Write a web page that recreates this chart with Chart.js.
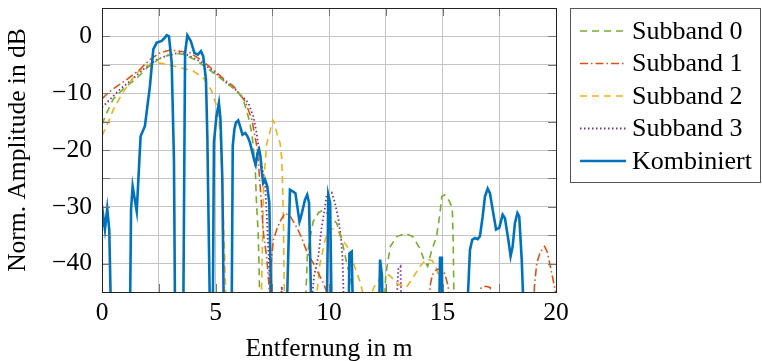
<!DOCTYPE html>
<html>
<head>
<meta charset="utf-8">
<script src="https://cdn.jsdelivr.net/npm/chart.js@4.4.1/dist/chart.umd.min.js"></script>
<style>
  html, body { margin: 0; padding: 0; background: #fff; }
  #wrap { width: 762px; height: 361px; }
</style>
</head>
<body>
<div id="wrap"><canvas id="chart" width="762" height="361"></canvas></div>
<script>
// Werte (x in m, y in dB); -50 = unterhalb der Achse
const seriesLabels = ['Subband 0', 'Subband 1', 'Subband 2', 'Subband 3', 'Kombiniert'];
const xTickLabels = [0, 5, 10, 15, 20];
const yTickLabels = [0, -10, -20, -30, -40];

const subband0 = [
  [0,-15.5],[0.2,-13.5],[0.5,-11],[1.0,-9],[1.5,-7.5],[2.0,-5.5],[2.5,-4],[2.85,-3.4],[3.3,-3],[3.6,-3.2],
  [4.1,-4.1],[4.7,-5.8],[5.3,-7.6],[5.85,-9.3],[6.2,-10.8],[6.45,-14.2],[6.6,-17],[6.75,-22.9],[6.8,-28.8],
  [6.88,-34.6],[6.92,-40.5],[6.96,-50],
  [8.94,-50],[9.05,-38.2],[9.3,-32.6],[9.55,-31],[9.75,-30.6],[9.9,-31.1],[10.34,-32.9],[10.56,-35.8],
  [10.78,-39.9],[10.93,-42.3],[11.05,-45],[11.15,-50],
  [12.4,-50],[12.5,-42],[12.7,-37],[13.0,-35.2],[13.4,-34.7],[13.7,-35.3],[14.0,-37.3],[14.2,-39.5],
  [14.35,-40.5],[14.5,-38],[14.74,-35.2],[14.89,-31.1],[14.97,-28.2],[15.1,-27.9],[15.3,-29],[15.43,-30.2],
  [15.47,-35.8],[15.5,-45],[15.52,-50],[20,-50]
];

const subband1 = [
  [0,-11],[0.28,-9.9],[0.65,-8.8],[1.09,-7.6],[1.67,-5.8],[2.11,-4.1],[2.55,-2.9],[2.99,-2.4],[3.44,-2.6],
  [3.88,-2.9],[4.46,-4.4],[5.05,-6.4],[5.49,-7.9],[5.8,-8.8],[6.3,-11.4],[6.6,-14.6],[6.85,-20],[6.92,-24],
  [6.98,-27],[7.05,-31],[7.12,-35],[7.25,-38.7],[7.32,-42],[7.38,-45.5],[7.45,-40],[7.55,-35.8],[7.7,-34],
  [7.84,-32.6],[8.06,-31.1],[8.3,-31.7],[8.59,-33.7],[8.8,-35.5],[9.05,-38.2],[9.31,-39.9],[9.53,-41.7],
  [9.75,-43.4],[9.9,-45],[10.0,-50],
  [14.4,-50],[14.45,-44],[14.55,-42],[14.75,-41],[14.95,-41],[15.1,-41.8],[15.25,-44],[15.35,-50],
  [16.6,-50],[16.7,-44.3],[16.9,-44],[17.1,-44.2],[17.2,-50],
  [19.0,-50],[19.05,-44],[19.15,-40],[19.3,-38],[19.5,-37],[19.62,-38],[19.75,-40.5],[19.9,-43.4],[20,-45.5]
];

const subband2 = [
  [0,-17.5],[0.2,-15.8],[0.5,-12.9],[0.87,-10.2],[1.16,-8.5],[1.53,-6.4],[1.97,-5.2],[2.41,-4.6],[2.85,-4.9],
  [3.44,-5.5],[4.02,-6.1],[4.46,-7.3],[4.83,-9.6],[5.05,-12.3],[5.15,-14.5],[5.22,-18],[5.3,-26],[5.4,-38],
  [5.48,-50],
  [7.0,-50],[7.05,-40],[7.12,-26],[7.25,-19],[7.4,-16.8],[7.52,-14.7],[7.6,-15.3],[7.7,-17],[7.84,-18.7],
  [7.92,-21.5],[7.99,-31.7],[8.03,-45],[8.05,-50],
  [9.35,-50],[9.6,-40],[9.85,-35.5],[10.1,-33.8],[10.4,-34.3],[10.6,-35.8],[10.9,-37.6],[11.1,-40.2],
  [11.35,-43],[11.55,-46],[11.8,-46],[12.0,-44],[12.3,-42.3],[12.65,-42],[13.0,-43.5],[13.4,-44.2],
  [13.7,-42.5],[14.0,-40.5],[14.3,-39.2],[14.55,-39.5],[14.75,-41],[14.9,-43.5],[15.05,-50],[20,-50]
];

const subband3 = [
  [0,-12.5],[0.35,-11.1],[0.8,-9.3],[1.23,-7.9],[1.82,-5.8],[2.41,-4.1],[2.85,-3.4],[3.36,-2.9],[3.73,-3.2],
  [4.32,-4.4],[4.9,-6.1],[5.49,-8.2],[5.86,-9.3],[6.45,-11.7],[6.67,-14.1],[6.81,-17],[6.93,-20.5],
  [7.05,-23],[7.18,-25.8],[7.26,-31.7],[7.33,-37.6],[7.4,-44.6],[7.43,-50],
  [7.85,-50],[7.92,-44],[7.98,-50],
  [9.2,-50],[9.28,-45],[9.34,-42.3],[9.53,-38.7],[9.68,-33.5],[9.82,-30.2],[9.9,-27.8],[10.12,-27.5],
  [10.26,-29.3],[10.41,-32],[10.52,-35.2],[10.59,-38.7],[10.63,-43.4],[10.66,-50],
  [12.95,-50],[13.05,-41],[13.15,-40.5],[13.2,-50],[20,-50]
];

const kombiniert = [
  [0,-33.5],[0.05,-31.5],[0.13,-34],[0.23,-30.3],[0.32,-34],[0.4,-50],
  [1.23,-50],[1.28,-30.5],[1.35,-26.4],[1.53,-30.8],[1.70,-17.6],[1.89,-15.8],[2.11,-8.8],[2.26,-2.3],
  [2.41,-1.1],[2.63,-0.8],[2.78,-0.2],[2.85,0.2],[2.95,0],[3.07,-4.6],[3.17,-21.7],[3.22,-50],
  [3.58,-50],[3.63,-20],[3.66,-2.9],[3.76,0.2],[3.91,-0.8],[4.07,-2.9],[4.22,-3.2],[4.36,-2.6],[4.46,-3.5],
  [4.58,-7.6],[4.64,-17.6],[4.76,-50],
  [4.88,-50],[4.93,-18.7],[5.04,-14.1],[5.15,-11.7],[5.22,-14.6],[5.30,-25],[5.37,-50],
  [5.71,-50],[5.76,-19.3],[5.83,-16.4],[5.90,-15.2],[6.0,-14.8],[6.08,-15.8],[6.19,-17.3],[6.31,-17],
  [6.41,-17.6],[6.52,-18.7],[6.63,-20.5],[6.70,-21.7],[6.77,-22.6],[6.85,-20.5],[6.92,-19.9],[6.98,-21.1],
  [7.03,-23.5],[7.10,-25.8],[7.18,-25.2],[7.28,-26.4],[7.37,-29.3],[7.47,-50],
  [8.13,-50],[8.28,-27],[8.40,-27.3],[8.52,-27.6],[8.70,-32.6],[8.77,-31.7],[8.94,-28.8],[9.04,-27.9],
  [9.12,-29.3],[9.23,-50],
  [9.90,-50],[9.97,-27.9],[10.05,-29.3],[10.12,-50],
  [10.86,-50],[10.9,-38.2],[11.0,-37.9],[11.06,-50],
  [12.2,-50],[12.25,-39.3],[12.33,-42],[12.38,-50],
  [14.85,-50],[14.89,-39],[14.97,-39],[15.0,-50],
  [16.07,-50],[16.21,-37.6],[16.31,-35.8],[16.43,-35.5],[16.55,-35.7],[16.65,-35.2],[16.77,-31.7],
  [16.87,-28.2],[16.99,-26.8],[17.09,-27.6],[17.21,-30.5],[17.36,-34],[17.50,-33.7],[17.65,-31.4],
  [17.75,-32],[17.90,-35.8],[18.00,-38.7],[18.09,-37],[18.19,-32.9],[18.30,-31.1],[18.38,-31.7],
  [18.49,-39.3],[18.59,-50],[20,-50]
];

const toPoints = arr => arr.map(p => ({ x: p[0], y: p[1] }));
const fmt = v => (v < 0 ? '\u2212' + Math.abs(v) : String(v));
const serif = '"Liberation Serif", "Times New Roman", serif';

const datasets = [
  { label: seriesLabels[0], data: toPoints(subband0), borderColor: '#77AC30', borderWidth: 1.6, borderDash: [7, 5], order: 1 },
  { label: seriesLabels[1], data: toPoints(subband1), borderColor: '#D95319', borderWidth: 1.6, borderDash: [8, 3, 1.5, 3], order: 1 },
  { label: seriesLabels[2], data: toPoints(subband2), borderColor: '#EDB120', borderWidth: 1.6, borderDash: [7, 5], order: 1 },
  { label: seriesLabels[3], data: toPoints(subband3), borderColor: '#7E2F8E', borderWidth: 1.8, borderDash: [1.5, 2.5], order: 1 },
  { label: seriesLabels[4], data: toPoints(kombiniert), borderColor: '#0072BD', borderWidth: 2.6, order: 0 }
];
datasets.forEach(d => { d.pointRadius = 0; d.tension = 0; d.fill = false; d.clip = 0; });

// Rahmen mit kleinen Tickstrichen innen (wie pgfplots)
const framePlugin = {
  id: 'frame',
  afterDatasetsDraw(chart) {
    const { ctx, chartArea: a, scales: { x, y } } = chart;
    ctx.save();
    ctx.strokeStyle = '#777';
    ctx.lineWidth = 1;
    ctx.beginPath();
    x.ticks.forEach(t => {
      const px = Math.round(x.getPixelForValue(t.value)) + 0.5;
      ctx.moveTo(px, a.top); ctx.lineTo(px, a.top + 8);
      ctx.moveTo(px, a.bottom); ctx.lineTo(px, a.bottom - 8);
    });
    y.ticks.forEach(t => {
      const py = Math.round(y.getPixelForValue(t.value)) + 0.5;
      ctx.moveTo(a.left, py); ctx.lineTo(a.left + 8, py);
      ctx.moveTo(a.right, py); ctx.lineTo(a.right - 8, py);
    });
    ctx.stroke();
    ctx.strokeStyle = '#222';
    ctx.strokeRect(Math.round(a.left) + 0.5, Math.round(a.top) + 0.5,
      Math.round(a.right - a.left), Math.round(a.bottom - a.top));
    ctx.restore();
  }
};

// Legende rechts im Kasten
const legendPlugin = {
  id: 'boxLegend',
  afterDraw(chart) {
    const ctx = chart.ctx;
    ctx.save();
    ctx.fillStyle = '#fff';
    ctx.fillRect(570, 8, 191, 175);
    ctx.strokeStyle = '#555';
    ctx.lineWidth = 1;
    ctx.strokeRect(570.5, 8.5, 190, 174);
    ctx.font = '26px ' + serif;
    ctx.textBaseline = 'middle';
    chart.data.datasets.forEach((d, i) => {
      const yy = 31 + i * 32.5;
      ctx.strokeStyle = d.borderColor;
      ctx.lineWidth = d.borderWidth;
      ctx.setLineDash(d.borderDash || []);
      ctx.beginPath();
      ctx.moveTo(580, yy);
      ctx.lineTo(626, yy);
      ctx.stroke();
      ctx.setLineDash([]);
      ctx.fillStyle = '#000';
      ctx.fillText(d.label, 632, yy + 1);
    });
    ctx.restore();
  }
};

new Chart(document.getElementById('chart'), {
  type: 'line',
  data: { datasets: datasets },
  plugins: [framePlugin, legendPlugin],
  options: {
    responsive: false,
    animation: false,
    devicePixelRatio: 1,
    layout: { padding: { left: 0, right: 206, top: 8, bottom: 0 } },
    plugins: { legend: { display: false }, tooltip: { enabled: false } },
    scales: {
      x: {
        type: 'linear',
        min: 0, max: 20,
        afterFit: s => { s.height = 69; s.paddingLeft = 0; s.paddingRight = 0; },
        ticks: {
          stepSize: 2.5, autoSkip: false, maxRotation: 0, padding: 6,
          color: '#000', font: { family: serif, size: 25.5 },
          callback: v => (xTickLabels.includes(v) ? fmt(v) : '')
        },
        grid: { color: '#c4c4c4', drawTicks: false },
        border: { color: '#222' },
        title: { display: true, text: 'Entfernung in m', color: '#000', font: { family: serif, size: 25.5 }, padding: { top: 0, bottom: -4 } }
      },
      y: {
        type: 'linear',
        min: -45, max: 5,
        afterFit: s => { s.width = 102; s.paddingTop = 0; s.paddingBottom = 0; },
        ticks: {
          stepSize: 5, autoSkip: false, padding: 10,
          color: '#000', font: { family: serif, size: 25.5 },
          callback: v => (yTickLabels.includes(v) ? fmt(v) : '')
        },
        grid: { color: '#c4c4c4', drawTicks: false },
        border: { color: '#222' },
        title: { display: true, text: 'Norm. Amplitude in dB', color: '#000', font: { family: serif, size: 25.5 }, padding: { top: 3, bottom: 0 } }
      }
    }
  }
});
</script>
</body>
</html>
